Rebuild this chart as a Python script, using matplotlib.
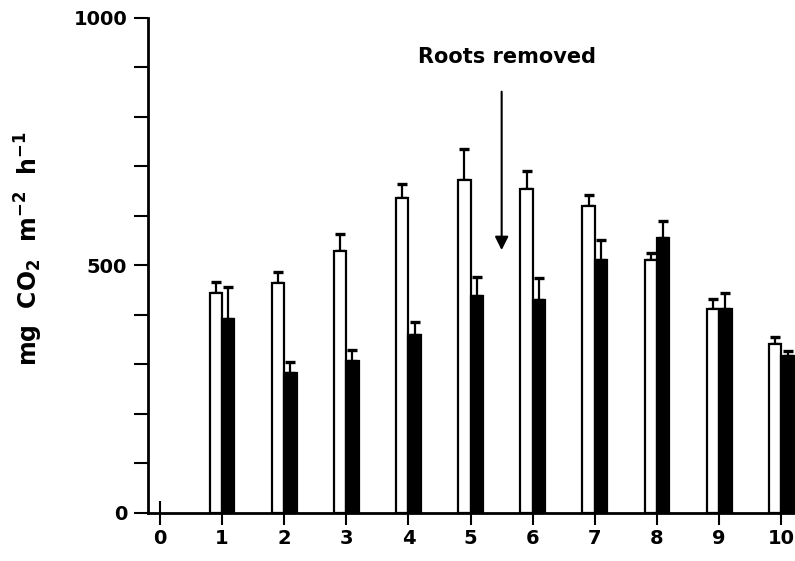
import numpy as np
import matplotlib
matplotlib.use("Agg")
import matplotlib.pyplot as plt
from matplotlib.ticker import MultipleLocator

# soil CO2 efflux, open = intact, filled = roots removed
days = [1, 2, 3, 4, 5, 6, 7, 8, 9, 10]
intact = [445, 465, 530, 637, 673, 655, 621, 512, 413, 341]
intact_err = [21, 21, 33, 28, 62, 36, 22, 14, 19, 14]
removed = [392, 283, 307, 360, 439, 430, 512, 556, 413, 317]
removed_err = [65, 22, 22, 26, 37, 45, 40, 34, 31, 11]
xticks = [0, 1, 2, 3, 4, 5, 6, 7, 8, 9, 10]
yticks = [0, 500, 1000]

plt.rcParams['font.family'] = ['DejaVu Sans']
plt.rcParams['font.weight'] = 'bold'
plt.rcParams['mathtext.fontset'] = 'custom'
plt.rcParams['mathtext.rm'] = 'DejaVu Sans:bold'
plt.rcParams['mathtext.default'] = 'rm'

fig = plt.figure(figsize=(7.95, 5.61), dpi=100)
ax = fig.add_axes([0.1862, 0.0856, 0.8138, 0.8824])

w = 0.2
x = np.array(days)
ekw = dict(elinewidth=1.6, capthick=2.4, capsize=3.4, ecolor='black')
ax.bar(x, intact, width=-w, align='edge', color='white', edgecolor='black',
       linewidth=1.6, zorder=2)
ax.errorbar(x - w / 2, intact, yerr=[np.zeros(len(x)), intact_err], fmt='none',
            zorder=1, **ekw)
ax.bar(x, removed, width=w, align='edge', color='black', edgecolor='black',
       linewidth=1.6, zorder=2)
ax.errorbar(x + w / 2, removed, yerr=[np.zeros(len(x)), removed_err], fmt='none',
            zorder=1, **ekw)

ax.annotate('', xy=(5.5, 531), xytext=(5.5, 851),
            arrowprops=dict(arrowstyle='-|>', lw=1.5, color='black',
                            mutation_scale=20, shrinkA=0, shrinkB=0))
ax.text(5.59, 922, 'Roots removed', ha='center', va='center', fontsize=15,
        fontweight='bold')

ax.set_xlim(-0.19, 10.22)
ax.set_ylim(0, 1000)
ax.set_xticks(xticks)
ax.set_yticks(yticks)
ax.yaxis.set_minor_locator(MultipleLocator(100))
ax.tick_params(axis='x', direction='inout', length=17, width=1.5, labelsize=14, pad=3)
ax.tick_params(axis='y', which='both', direction='out', length=10, width=1.5,
               labelsize=14, pad=5)
for lab in ax.get_xticklabels() + ax.get_yticklabels():
    lab.set_fontweight('bold')

for s in ['top', 'right']:
    ax.spines[s].set_visible(False)
for s in ['left', 'bottom']:
    ax.spines[s].set_linewidth(2)

ax.set_ylabel('mg  CO$_2$  m$^{-2}$  h$^{-1}$', fontsize=17, fontweight='bold')
ax.yaxis.set_label_coords(-0.16, 0.535)

fig.savefig('out.png', dpi=100)
